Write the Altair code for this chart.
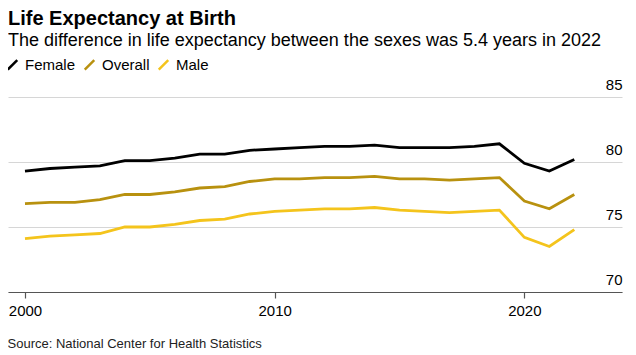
import altair as alt
import pandas as pd

years = list(range(2000, 2023))
female = [79.3, 79.5, 79.6, 79.7, 80.1, 80.1, 80.3, 80.6, 80.6, 80.9, 81.0, 81.1,
          81.2, 81.2, 81.3, 81.1, 81.1, 81.1, 81.2, 81.4, 79.9, 79.3, 80.2]
overall = [76.8, 76.9, 76.9, 77.1, 77.5, 77.5, 77.7, 78.0, 78.1, 78.5, 78.7, 78.7,
           78.8, 78.8, 78.9, 78.7, 78.7, 78.6, 78.7, 78.8, 77.0, 76.4, 77.5]
male = [74.1, 74.3, 74.4, 74.5, 75.0, 75.0, 75.2, 75.5, 75.6, 76.0, 76.2, 76.3,
        76.4, 76.4, 76.5, 76.3, 76.2, 76.1, 76.2, 76.3, 74.2, 73.5, 74.8]
series = ["Female", "Overall", "Male"]
colors = ["#000000", "#b8910f", "#f4c41c"]
x_ticks = [2000, 2010, 2020]
y_ticks = [70, 75, 80, 85]

rows = []
for name, vals in zip(series, [female, overall, male]):
    for y, v in zip(years, vals):
        rows.append({"year": y, "value": v, "series": name})
df = pd.DataFrame(rows)

FONT = "Liberation Sans"

chart = alt.Chart(df).mark_line(strokeWidth=2.8, strokeJoin="miter").encode(
    x=alt.X("year:Q",
            scale=alt.Scale(domain=[1999.32, 2023.91], nice=False, zero=False),
            axis=alt.Axis(values=x_ticks, format="d", grid=False,
                          domainColor="#555555", domainWidth=1.2,
                          tickColor="#555555", tickSize=6, tickWidth=1.2,
                          labelFontSize=15, labelColor="#000000", labelPadding=5,
                          labelFont=FONT, labelFlush=False,
                          title="Source: National Center for Health Statistics",
                          titleFont=FONT, titleFontSize=13, titleFontWeight="normal",
                          titleColor="#222222", titleAnchor="start", titleAlign="left",
                          titleBaseline="top", titleX=-1, titleY=45)),
    y=alt.Y("value:Q",
            scale=alt.Scale(domain=[70, 85], nice=False, zero=False),
            axis=alt.Axis(orient="right", values=y_ticks, grid=True,
                          gridColor="#d6d6d6", gridWidth=1, domain=False,
                          ticks=False, tickSize=0, labelAlign="right",
                          labelBaseline="bottom", labelPadding=0, labelOffset=-5,
                          labelFontSize=15, labelColor="#000000", labelFont=FONT,
                          title=None)),
    color=alt.Color("series:N",
                    scale=alt.Scale(domain=series, range=colors),
                    legend=alt.Legend(orient="none", legendX=-3, legendY=-40,
                                      direction="horizontal", title=None,
                                      symbolType="M-1,1L1,-1", symbolSize=90,
                                      symbolStrokeWidth=2.5, labelFontSize=15,
                                      labelFont=FONT, labelColor="#000000",
                                      columnPadding=3, labelOffset=5)),
).properties(
    width=614,
    height=195,
    title=alt.TitleParams(
        text="Life Expectancy at Birth",
        subtitle="The difference in life expectancy between the sexes was 5.4 years in 2022",
        anchor="start", font=FONT, fontSize=20, fontWeight="bold", color="#000000",
        subtitleFont=FONT, subtitleFontSize=18, subtitleColor="#000000",
        subtitlePadding=3, offset=7, frame="group"),
    padding={"left": 0, "top": 89, "right": 6, "bottom": 60},
    autosize=alt.AutoSizeParams(type="none"),
).configure_view(stroke=None)

chart.save("out.html", embed_options={"renderer": "svg", "actions": False})
